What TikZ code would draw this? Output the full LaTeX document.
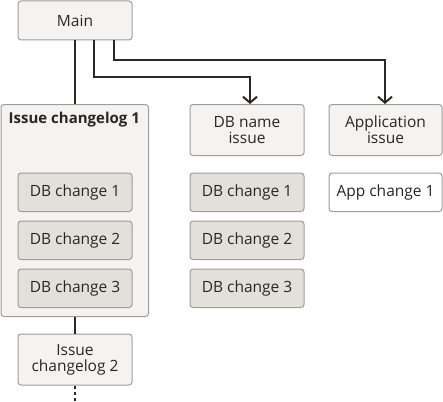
\documentclass[tikz,border=0pt]{standalone}
\usepackage{fontspec}
\setmainfont{Open Sans}
\usetikzlibrary{arrows.meta}
\definecolor{boxfill}{HTML}{F4F3F1}
\definecolor{innerfill}{HTML}{E3E0DC}
\definecolor{boxline}{HTML}{A09C98}
\definecolor{conn}{HTML}{2B2825}
\definecolor{txt}{HTML}{2A2623}
\tikzset{
  box/.style={draw=boxline, line width=1pt, fill=boxfill, rounded corners=3pt, minimum width=114pt, text=txt, align=center, font=\fontsize{15.5}{16}\selectfont, inner sep=0pt, anchor=north west},
  inner/.style={box, fill=innerfill, minimum height=38.5pt},
  white/.style={box, fill=white, minimum height=38.5pt},
  conn/.style={draw=conn, line width=2pt},
  arr/.style={conn, -{Straight Barb[length=6pt,width=14pt,line width=2pt]}},
}
\begin{document}
\begin{tikzpicture}[x=1pt,y=-1pt]
\useasboundingbox (0,0) rectangle (443,401);
% main
\node[box, minimum height=39pt] (main) at (17.5,0.5) {Main};
% issue changelog 1 container
\node[box, minimum width=147.5pt, minimum height=212pt] (cl1) at (0.5,104) {};
\node[anchor=north, font=\bfseries\fontsize{15}{16}\selectfont, text=txt, inner sep=0pt] (cl1t) at (74.3,112) {Issue changelog 1};
\node[inner] (a1) at (17.5,172.5) {DB change 1};
\node[inner] (a2) at (17.5,220.5) {DB change 2};
\node[inner] (a3) at (17.5,268.5) {DB change 3};
% DB name issue
\node[box, minimum height=51pt] (dbn) at (189.5,104) {DB name\\issue};
\node[inner] (b1) at (189.5,172.5) {DB change 1};
\node[inner] (b2) at (189.5,220.5) {DB change 2};
\node[inner] (b3) at (189.5,268.5) {DB change 3};
% Application issue
\node[box, minimum width=113pt, minimum height=51pt] (app) at (328.5,104) {Application\\issue};
\node[white, minimum width=113pt] (c1) at (328.5,172.5) {App change 1};
% issue changelog 2
\node[box, minimum height=51pt] (cl2) at (17.5,333.5) {Issue\\changelog 2};
\coordinate (end) at (75,401);
% connectors
\draw[conn] (main.south -| 75,0) -- (cl1.north -| 75,0);
\draw[arr] (main.south -| 94,0) |- (250,77) -- (dbn.north -| 250,0);
\draw[arr] (main.south -| 114,0) |- (385,60) -- (app.north -| 385,0);
\draw[conn] (cl1.south -| 75,0) -- (cl2.north -| 75,0);
\draw[conn, dash pattern=on 3pt off 3pt] (cl2.south -| 75,0) -- (end);
\end{tikzpicture}
\end{document}
